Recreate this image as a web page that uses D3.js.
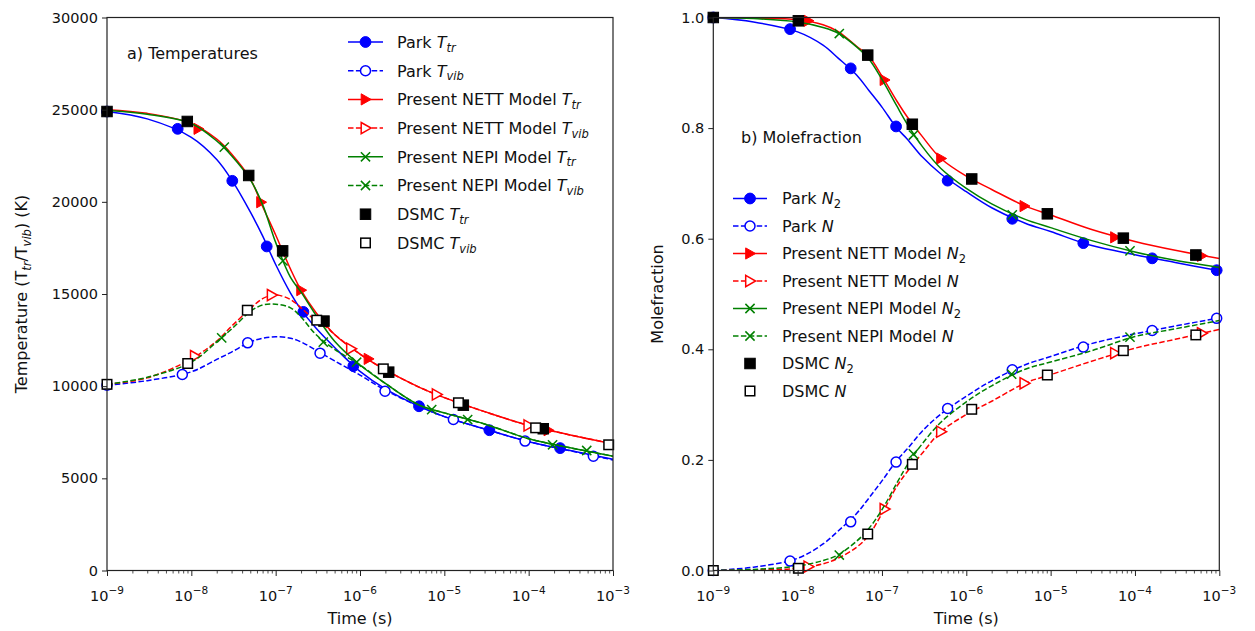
<!DOCTYPE html>
<html><head><meta charset="utf-8">
<script src="https://cdn.jsdelivr.net/npm/d3@7"></script>
<style>
body{margin:0;background:#fff}
svg{display:block}
text{font-family:"DejaVu Sans",sans-serif;fill:#111;white-space:pre}
</style>
</head><body>
<svg id="c" width="1255" height="631"></svg>
<script>
// ---------- tick labels ----------
const timeTicks = [1e-9,1e-8,1e-7,1e-6,1e-5,1e-4,1e-3];
const timeTickExp = ["\u22129","\u22128","\u22127","\u22126","\u22125","\u22124","\u22123"];
const tempTicks = [0,5000,10000,15000,20000,25000,30000];
const fracTicks = [0,0.2,0.4,0.6,0.8,1.0];

// ---------- a) temperatures : [time (s), T (K)] ----------
const parkTtrLine = [[1e-9,24900],[3e-9,24500],[1e-8,23500],[2e-8,22300],[3e-8,21200],[5e-8,19450],[7e-8,18150],[1e-7,16600],[1.5e-7,15050],[2e-7,14150],[3e-7,13150],[5e-7,12100],[1e-6,10800],[2e-6,9850],[5e-6,8910],[1e-5,8350],[3e-5,7680],[1e-4,6990],[3e-4,6520],[1e-3,6030]];
const parkTtrMarks = [[1e-9,24900],[6.89e-9,23960],[3.06e-8,21140],[7.83e-8,17580],[2.13e-7,14030],[8.34e-7,11090],[5.01e-6,8910],[3.42e-5,7610],[2.36e-4,6640]];
const parkTvibLine = [[1e-9,10050],[3e-9,10300],[1e-8,10780],[2e-8,11450],[3e-8,11850],[5e-8,12400],[7e-8,12600],[1e-7,12680],[1.5e-7,12600],[2e-7,12400],[3e-7,11950],[5e-7,11370],[1e-6,10600],[2e-6,9780],[5e-6,8910],[1e-5,8350],[3e-5,7680],[1e-4,6990],[3e-4,6510],[1e-3,6000]];
const parkTvibMarks = [[1e-9,10050],[7.82e-9,10630],[4.66e-8,12350],[3.36e-7,11790],[1.98e-6,9730],[1.28e-5,8190],[9.06e-5,7020],[5.85e-4,6200]];
const nettTtrLine = [[1e-9,25000],[3e-9,24800],[1e-8,24250],[2e-8,23400],[3e-8,22600],[5e-8,21250],[7e-8,19750],[1e-7,18200],[1.5e-7,16350],[2e-7,15210],[3e-7,14000],[5e-7,12800],[1e-6,11740],[2e-6,10880],[5e-6,9950],[1e-5,9380],[3e-5,8620],[1e-4,7870],[3e-4,7370],[1e-3,6870]];
const nettTtrMarks = [[1.21e-8,23960],[6.70e-8,19980],[2.00e-7,15210],[1.26e-6,11480],[1.71e-4,7610]];
const nettTvibLine = [[1e-9,10100],[3e-9,10450],[1e-8,11480],[2e-8,12450],[3e-8,13250],[5e-8,14200],[7e-8,14750],[1e-7,14950],[1.5e-7,14700],[2e-7,14250],[3e-7,13550],[4e-7,13200],[5e-7,12800],[1e-6,11740],[2e-6,10880],[5e-6,9950],[1e-5,9380],[3e-5,8620],[1e-4,7870],[3e-4,7370],[1e-3,6870]];
const nettTvibMarks = [[1.10e-8,11630],[8.97e-8,14940],[7.82e-7,12030],[8.11e-6,9550],[9.91e-5,7870]];
const nepiTtrLine = [[1e-9,24950],[3e-9,24750],[1e-8,24250],[2e-8,23300],[3e-8,22500],[5e-8,21200],[7e-8,19850],[1e-7,17800],[1.5e-7,15900],[2e-7,15100],[3e-7,13850],[5e-7,12440],[1e-6,11150],[2e-6,10150],[5e-6,8980],[1e-5,8550],[3e-5,7950],[1e-4,7150],[3e-4,6670],[1e-3,6200]];
const nepiTtrMarks = [[2.46e-8,22970],[1.22e-7,16800],[9.12e-7,11300],[1.89e-5,8190],[4.88e-4,6510]];
const nepiTvibLine = [[1e-9,10100],[3e-9,10480],[1e-8,11300],[2e-8,12400],[3e-8,13100],[5e-8,14050],[7e-8,14400],[1e-7,14450],[1.5e-7,14250],[2e-7,13750],[3e-7,12800],[5e-7,12000],[1e-6,11150],[2e-6,10150],[5e-6,8980],[1e-5,8550],[3e-5,7950],[1e-4,7150],[3e-4,6670],[1e-3,6200]];
const nepiTvibMarks = [[2.29e-8,12620],[3.67e-7,12390],[7.08e-6,8730],[1.92e-4,6820]];
const dsmcTtr = [[1e-9,24900],[8.95e-9,24360],[4.79e-8,21430],[1.21e-7,17340],[3.74e-7,13530],[2.19e-6,10760],[1.68e-5,8970],[1.49e-4,7690]];
const dsmcTvib = [[1e-9,10100],[9.06e-9,11230],[4.61e-8,14120],[3.07e-7,13580],[1.89e-6,10940],[1.47e-5,9100],[1.21e-4,7740],[8.89e-4,6820]];

// ---------- b) mole fraction : [time (s), fraction] ----------
const parkN2Line = [[1e-9,1.0],[3e-9,0.992],[1e-8,0.974],[2e-8,0.950],[3e-8,0.927],[5e-8,0.896],[7e-8,0.868],[1e-7,0.838],[1.5e-7,0.800],[2e-7,0.780],[3e-7,0.748],[5e-7,0.717],[1e-6,0.685],[2e-6,0.656],[5e-6,0.628],[1e-5,0.613],[3e-5,0.588],[1e-4,0.571],[3e-4,0.557],[1e-3,0.542]];
const parkN2Marks = [[1e-9,1.0],[8.13e-9,0.979],[4.26e-8,0.908],[1.47e-7,0.803],[6.01e-7,0.705],[3.51e-6,0.636],[2.44e-5,0.592],[1.60e-4,0.5645],[9.31e-4,0.543]];
const parkNLine = [[1e-9,0.0],[3e-9,0.006],[1e-8,0.022],[2e-8,0.048],[3e-8,0.071],[5e-8,0.103],[7e-8,0.131],[1e-7,0.162],[1.5e-7,0.199],[2e-7,0.220],[3e-7,0.252],[5e-7,0.283],[1e-6,0.315],[2e-6,0.343],[5e-6,0.372],[1e-5,0.387],[3e-5,0.410],[1e-4,0.428],[3e-4,0.442],[1e-3,0.457]];
const parkNMarks = [[1e-9,0.0],[8.13e-9,0.017],[4.26e-8,0.088],[1.47e-7,0.196],[6.01e-7,0.293],[3.51e-6,0.363],[2.44e-5,0.404],[1.60e-4,0.434],[9.31e-4,0.456]];
const nettN2Line = [[1e-9,1.0],[3e-9,0.999],[1e-8,0.996],[2e-8,0.987],[3e-8,0.975],[5e-8,0.948],[7e-8,0.930],[1e-7,0.894],[1.5e-7,0.849],[2e-7,0.820],[3e-7,0.785],[5e-7,0.745],[1e-6,0.713],[2e-6,0.689],[5e-6,0.659],[1e-5,0.643],[3e-5,0.617],[1e-4,0.595],[3e-4,0.579],[1e-3,0.564]];
const nettN2Marks = [[1.34e-8,0.994],[1.07e-7,0.887],[5.01e-7,0.745],[4.88e-6,0.659],[5.79e-5,0.6025],[6.19e-4,0.569]];
const nettNLine = [[1e-9,0.0],[3e-9,0.001],[1e-8,0.004],[2e-8,0.012],[3e-8,0.022],[5e-8,0.042],[7e-8,0.064],[1e-7,0.103],[1.5e-7,0.152],[2e-7,0.179],[3e-7,0.212],[5e-7,0.251],[1e-6,0.282],[2e-6,0.306],[5e-6,0.339],[1e-5,0.354],[3e-5,0.378],[1e-4,0.402],[3e-4,0.418],[1e-3,0.436]];
const nettNMarks = [[1.34e-8,0.007],[1.07e-7,0.111],[5.01e-7,0.251],[4.88e-6,0.3385],[5.79e-5,0.393],[6.19e-4,0.429]];
const nepiN2Line = [[1e-9,1.0],[3e-9,0.998],[1e-8,0.992],[2e-8,0.982],[3e-8,0.972],[5e-8,0.947],[7e-8,0.925],[1e-7,0.888],[1.5e-7,0.840],[2e-7,0.807],[3e-7,0.767],[5e-7,0.727],[1e-6,0.691],[2e-6,0.663],[5e-6,0.635],[1e-5,0.620],[3e-5,0.597],[1e-4,0.576],[3e-4,0.561],[1e-3,0.548]];
const nepiN2Marks = [[3.12e-8,0.971],[2.36e-7,0.7875],[3.51e-6,0.643],[8.73e-5,0.578]];
const nepiNLine = [[1e-9,0.0],[3e-9,0.002],[1e-8,0.008],[2e-8,0.018],[3e-8,0.028],[5e-8,0.053],[7e-8,0.076],[1e-7,0.110],[1.5e-7,0.158],[2e-7,0.191],[3e-7,0.229],[5e-7,0.268],[1e-6,0.305],[2e-6,0.334],[5e-6,0.364],[1e-5,0.377],[3e-5,0.397],[1e-4,0.423],[3e-4,0.437],[1e-3,0.452]];
const nepiNMarks = [[3.12e-8,0.028],[2.36e-7,0.211],[3.45e-6,0.355],[8.73e-5,0.422]];
const dsmcN2 = [[1e-9,1.0],[1.02e-8,0.994],[6.78e-8,0.932],[2.29e-7,0.807],[1.16e-6,0.708],[9.14e-6,0.645],[7.28e-5,0.601],[5.27e-4,0.5705]];
const dsmcN = [[1e-9,0.0],[1.02e-8,0.004],[6.78e-8,0.066],[2.29e-7,0.192],[1.16e-6,0.2915],[9.14e-6,0.3535],[7.28e-5,0.3975],[5.27e-4,0.426]];

// ---------- legend labels (text, style: i=italic, s=subscript) ----------
const tempLabels = [
  [["Park ",""],["T","i"],["tr","is"]],
  [["Park ",""],["T","i"],["vib","is"]],
  [["Present NETT Model ",""],["T","i"],["tr","is"]],
  [["Present NETT Model ",""],["T","i"],["vib","is"]],
  [["Present NEPI Model ",""],["T","i"],["tr","is"]],
  [["Present NEPI Model ",""],["T","i"],["vib","is"]],
  [["DSMC ",""],["T","i"],["tr","is"]],
  [["DSMC ",""],["T","i"],["vib","is"]]
];
const fracLabels = [
  [["Park ",""],["N","i"],["2","s"]],
  [["Park ",""],["N","i"]],
  [["Present NETT Model ",""],["N","i"],["2","s"]],
  [["Present NETT Model ",""],["N","i"]],
  [["Present NEPI Model ",""],["N","i"],["2","s"]],
  [["Present NEPI Model ",""],["N","i"]],
  [["DSMC ",""],["N","i"],["2","s"]],
  [["DSMC ",""],["N","i"]]
];

const BLUE="#0000ff", RED="#ff0000", GREEN="#008000", BLACK="#000000";
const svg = d3.select("#c");
const defs = svg.append("defs");

function rich(sel, x, y, parts, size){
  const t = sel.append("text").attr("x",x).attr("y",y).attr("font-size",size);
  let shift = 0;
  parts.forEach(([s,st])=>{
    const ts = t.append("tspan").text(s);
    if(st.includes("i")) ts.attr("font-style","italic");
    if(st.includes("s")){
      const d = size*0.24;
      ts.attr("font-size", size*0.72).attr("dy", d - shift);
      shift = d;
    } else if(shift){
      ts.attr("dy", -shift); shift = 0;
    }
  });
  return t;
}

function marker(g, type, cx, cy, color, filled){
  const fill = filled ? color : "#ffffff";
  if(type==="circle"){
    g.append("circle").attr("cx",cx).attr("cy",cy).attr("r",filled?5.4:5)
      .attr("fill",fill).attr("stroke",color).attr("stroke-width",filled?1:1.5);
  } else if(type==="square"){
    const s = filled?10.5:9.5;
    g.append("rect").attr("x",cx-s/2).attr("y",cy-s/2).attr("width",s).attr("height",s)
      .attr("fill",fill).attr("stroke",color).attr("stroke-width",filled?1:1.5);
  } else if(type==="tri"){
    g.append("path").attr("transform",`translate(${cx},${cy})`)
      .attr("d","M-4.3,-5.6L5.6,0L-4.3,5.6Z")
      .attr("fill",fill).attr("stroke",color).attr("stroke-width",filled?1:1.5).attr("stroke-linejoin","miter");
  } else if(type==="x"){
    g.append("path").attr("transform",`translate(${cx},${cy})`)
      .attr("d","M-4.6,-4.6L4.6,4.6M-4.6,4.6L4.6,-4.6")
      .attr("fill","none").attr("stroke",color).attr("stroke-width",1.5);
  }
}

function drawPanel(cfg){
  const x = d3.scaleLog().domain([1e-9,1e-3]).range([cfg.x0,cfg.x1]);
  const y = d3.scaleLinear().domain(cfg.yDomain).range([cfg.y1,cfg.y0]);
  const g = svg.append("g");
  defs.append("clipPath").attr("id",cfg.id).append("rect")
    .attr("x",cfg.x0).attr("y",cfg.y0).attr("width",cfg.x1-cfg.x0).attr("height",cfg.y1-cfg.y0);
  const line = d3.line().x(d=>x(d[0])).y(d=>y(d[1])).curve(d3.curveCatmullRom.alpha(0.5));

  cfg.series.forEach(s=>{
    if(s.line){
      g.append("path").attr("d",line(s.line)).attr("fill","none")
        .attr("stroke",s.color).attr("stroke-width",1.5)
        .attr("stroke-dasharray",s.dash?"5.5,2.4":null)
        .attr("clip-path",`url(#${cfg.id})`);
    }
    s.marks.forEach(d=>marker(g,s.marker,x(d[0]),y(d[1]),s.color,s.filled));
  });

  // frame
  g.append("rect").attr("x",cfg.x0).attr("y",cfg.y0).attr("width",cfg.x1-cfg.x0).attr("height",cfg.y1-cfg.y0)
    .attr("fill","none").attr("stroke","#222").attr("stroke-width",1.2);

  // y axis
  const ya = g.append("g").attr("transform",`translate(${cfg.x0},0)`)
    .call(d3.axisLeft(y).tickValues(cfg.yTicks).tickFormat(cfg.yFmt).tickSize(5).tickPadding(4));
  ya.select(".domain").remove();
  ya.attr("font-family",null).attr("font-size",null);
  ya.selectAll(".tick line").attr("stroke","#222").attr("stroke-width",1);
  ya.selectAll(".tick text").attr("font-size",14.5).attr("fill","#111");

  // x axis major + minor
  const xa = g.append("g").attr("transform",`translate(0,${cfg.y1})`)
    .call(d3.axisBottom(x).tickValues(timeTicks).tickFormat(()=>"").tickSize(5.5));
  xa.select(".domain").remove();
  xa.selectAll(".tick line").attr("stroke","#222").attr("stroke-width",1);
  const minor = x.ticks().filter(v=>Math.abs(Math.log10(v)-Math.round(Math.log10(v)))>1e-6);
  const xm = g.append("g").attr("transform",`translate(0,${cfg.y1})`)
    .call(d3.axisBottom(x).tickValues(minor).tickFormat(()=>"").tickSize(3));
  xm.select(".domain").remove();
  xm.selectAll(".tick line").attr("stroke","#222").attr("stroke-width",0.8);

  timeTicks.forEach((t,i)=>{
    const tx = g.append("text").attr("x",x(t)).attr("y",cfg.y1+30).attr("text-anchor","middle").attr("font-size",14.5);
    tx.append("tspan").text("10");
    tx.append("tspan").text(timeTickExp[i]).attr("font-size",10.5).attr("dy",-7);
  });

  // x title
  g.append("text").attr("x",(cfg.x0+cfg.x1)/2).attr("y",624).attr("text-anchor","middle")
    .attr("font-size",16).text("Time (s)");

  // y title
  rich(g,0,0,cfg.yTitle,16).attr("text-anchor","middle")
    .attr("transform",`translate(${cfg.yTitleX},${(cfg.y0+cfg.y1)/2}) rotate(-90)`);

  // annotation
  g.append("text").attr("x",cfg.annX).attr("y",cfg.annY).attr("font-size",16).text(cfg.ann);

  // legend
  cfg.series.forEach((s,i)=>{
    const ly = cfg.legY + i*cfg.legStep;
    const cx = (cfg.legX0+cfg.legX1)/2;
    if(s.line){
      g.append("line").attr("x1",cfg.legX0).attr("x2",cfg.legX1).attr("y1",ly).attr("y2",ly)
        .attr("stroke",s.color).attr("stroke-width",1.5).attr("stroke-dasharray",s.dash?"5.5,2.4":null);
    }
    marker(g,s.marker,cx,ly,s.color,s.filled);
    rich(g,cfg.legText,ly+5.8,s.label,16);
  });
}

drawPanel({
  id:"clipA", x0:107, x1:613, y0:17.5, y1:570.5,
  yDomain:[0,30000], yTicks:tempTicks, yFmt:d3.format("d"),
  yTitle:[["Temperature (T",""],["tr","is"],["/T",""],["vib","is"],[") (K)",""]], yTitleX:27,
  ann:"a) Temperatures", annX:127, annY:59,
  legX0:348, legX1:383, legText:397, legY:42, legStep:28.7,
  series:[
    {line:parkTtrLine, marks:parkTtrMarks, color:BLUE, dash:false, marker:"circle", filled:true, label:tempLabels[0]},
    {line:parkTvibLine, marks:parkTvibMarks, color:BLUE, dash:true, marker:"circle", filled:false, label:tempLabels[1]},
    {line:nettTtrLine, marks:nettTtrMarks, color:RED, dash:false, marker:"tri", filled:true, label:tempLabels[2]},
    {line:nettTvibLine, marks:nettTvibMarks, color:RED, dash:true, marker:"tri", filled:false, label:tempLabels[3]},
    {line:nepiTtrLine, marks:nepiTtrMarks, color:GREEN, dash:false, marker:"x", filled:true, label:tempLabels[4]},
    {line:nepiTvibLine, marks:nepiTvibMarks, color:GREEN, dash:true, marker:"x", filled:true, label:tempLabels[5]},
    {line:null, marks:dsmcTtr, color:BLACK, dash:false, marker:"square", filled:true, label:tempLabels[6]},
    {line:null, marks:dsmcTvib, color:BLACK, dash:false, marker:"square", filled:false, label:tempLabels[7]}
  ]
});

drawPanel({
  id:"clipB", x0:713.3, x1:1219.3, y0:17.5, y1:570.5,
  yDomain:[0,1], yTicks:fracTicks, yFmt:d3.format(".1f"),
  yTitle:[["Molefraction",""]], yTitleX:663,
  ann:"b) Molefraction", annX:741, annY:143,
  legX0:733, legX1:767, legText:782, legY:198.5, legStep:27.5,
  series:[
    {line:parkN2Line, marks:parkN2Marks, color:BLUE, dash:false, marker:"circle", filled:true, label:fracLabels[0]},
    {line:parkNLine, marks:parkNMarks, color:BLUE, dash:true, marker:"circle", filled:false, label:fracLabels[1]},
    {line:nettN2Line, marks:nettN2Marks, color:RED, dash:false, marker:"tri", filled:true, label:fracLabels[2]},
    {line:nettNLine, marks:nettNMarks, color:RED, dash:true, marker:"tri", filled:false, label:fracLabels[3]},
    {line:nepiN2Line, marks:nepiN2Marks, color:GREEN, dash:false, marker:"x", filled:true, label:fracLabels[4]},
    {line:nepiNLine, marks:nepiNMarks, color:GREEN, dash:true, marker:"x", filled:true, label:fracLabels[5]},
    {line:null, marks:dsmcN2, color:BLACK, dash:false, marker:"square", filled:true, label:fracLabels[6]},
    {line:null, marks:dsmcN, color:BLACK, dash:false, marker:"square", filled:false, label:fracLabels[7]}
  ]
});
</script>
</body></html>
